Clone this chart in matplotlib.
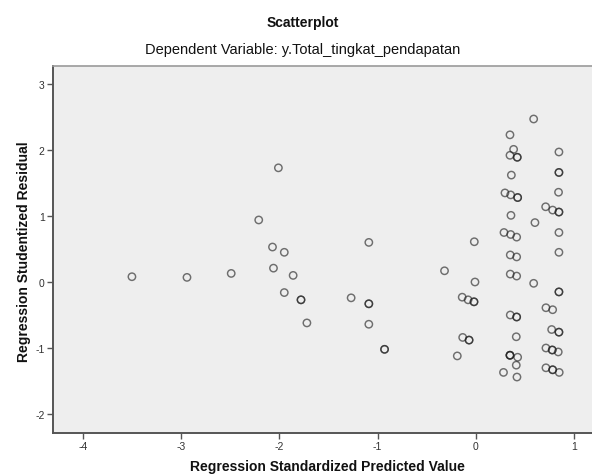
import matplotlib
matplotlib.use("Agg")
import matplotlib.pyplot as plt
from matplotlib.ticker import FuncFormatter

plt.rcParams['font.family'] = ['Liberation Sans', 'DejaVu Sans']

# Regression Standardized Predicted Value
pred = [
    -3.50, -2.94, -2.49, -2.01, -2.21, -2.07, -1.95, -2.06, -1.86, -1.95,
    -1.78, -1.78, -1.72, -1.27, -1.09, -1.09, -1.09, -1.09, -0.93, -0.93,
    -0.32, -0.017, -0.01, -0.14, -0.08, -0.02, -0.02, -0.135, -0.07, -0.07,
    -0.19,
    0.346, 0.383, 0.346, 0.42, 0.42, 0.36, 0.295, 0.353, 0.424, 0.424,
    0.356, 0.285, 0.353, 0.414, 0.349, 0.414, 0.349, 0.414, 0.349, 0.414,
    0.414, 0.41, 0.346, 0.346, 0.346, 0.424, 0.41, 0.28, 0.417,
    0.587, 0.60, 0.587,
    0.844, 0.844, 0.844, 0.84, 0.709, 0.78, 0.844, 0.844, 0.844, 0.844,
    0.844, 0.844, 0.712, 0.78, 0.77, 0.844, 0.844, 0.712, 0.776, 0.776,
    0.837, 0.712, 0.78, 0.78, 0.847,
]
# Regression Studentized Residual
resid = [
    0.08, 0.07, 0.13, 1.73, 0.94, 0.53, 0.45, 0.21, 0.10, -0.16,
    -0.27, -0.27, -0.62, -0.24, 0.60, -0.33, -0.33, -0.64, -1.02, -1.02,
    0.17, 0.61, 0.00, -0.23, -0.27, -0.30, -0.30, -0.84, -0.88, -0.88,
    -1.12,
    2.23, 2.01, 1.92, 1.89, 1.89, 1.62, 1.35, 1.32, 1.28, 1.28,
    1.01, 0.75, 0.72, 0.68, 0.41, 0.38, 0.12, 0.09, -0.50, -0.53,
    -0.53, -0.83, -1.11, -1.11, -1.11, -1.14, -1.26, -1.37, -1.44,
    2.47, 0.90, -0.02,
    1.97, 1.66, 1.66, 1.36, 1.14, 1.09, 1.06, 1.06, 0.75, 0.45,
    -0.15, -0.15, -0.39, -0.42, -0.72, -0.76, -0.76, -1.00, -1.03, -1.03,
    -1.06, -1.30, -1.33, -1.33, -1.37,
]
x_ticks = [-4, -3, -2, -1, 0, 1]
y_ticks = [-2, -1, 0, 1, 2, 3]

W, H = 592, 477
fig = plt.figure(figsize=(W / 100, H / 100), dpi=100)
fig.patch.set_facecolor('white')

left_px, right_px, top_px, bottom_px = 53, 601, 67, 434
ax = fig.add_axes([left_px / W, 1 - bottom_px / H,
                   (right_px - left_px) / W, (bottom_px - top_px) / H])
ax.set_facecolor('#eeeeee')

ax.scatter(pred, resid, s=28, facecolors='none',
           edgecolors=(0.12, 0.12, 0.12, 0.62), linewidths=1.05, zorder=3)

ax.set_xlim(-4.303, 1.272)
ax.set_ylim(-2.288, 3.273)
ax.set_xticks(x_ticks)
ax.set_yticks(y_ticks)
fmt = FuncFormatter(lambda v, p: f"{int(v)}".replace('\u2212', '-'))
ax.xaxis.set_major_formatter(fmt)
ax.yaxis.set_major_formatter(fmt)
ax.tick_params(axis='both', direction='out', length=4, width=1.0,
               color='#555555', labelsize=7.5, labelcolor='#333333', pad=2)
ax.tick_params(top=False, right=False)

for side in ['left', 'bottom']:
    ax.spines[side].set_color('#555555')
    ax.spines[side].set_linewidth(1.4)
for side in ['top', 'right']:
    ax.spines[side].set_color('#9a9a9a')
    ax.spines[side].set_linewidth(1.2)

fig.text(303 / W, 1 - 23 / H, 'Scatterplot', ha='center', va='center',
         fontsize=10, fontweight='bold', color='#111111')
fig.text(303 / W, 1 - 50 / H, 'Dependent Variable: y.Total_tingkat_pendapatan',
         ha='center', va='center', fontsize=10.5, color='#111111')
fig.text(327 / W, 1 - 467 / H, 'Regression Standardized Predicted Value',
         ha='center', va='center', fontsize=10, fontweight='bold', color='#111111')
fig.text(24 / W, 1 - 252 / H, 'Regression Studentized Residual',
         ha='center', va='center', rotation=90, fontsize=10,
         fontweight='bold', color='#111111')

fig.savefig('out.png', dpi=100, facecolor='white')
